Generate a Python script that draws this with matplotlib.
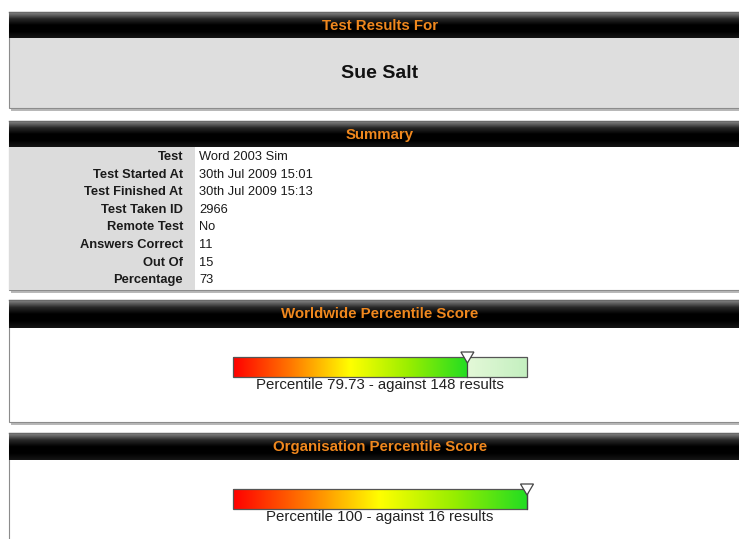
import numpy as np
import matplotlib
matplotlib.use("Agg")
import matplotlib.pyplot as plt
from matplotlib.colors import LinearSegmentedColormap
from matplotlib.patches import Rectangle, Polygon

plt.rcParams['font.family'] = ['Liberation Sans', 'DejaVu Sans']

# ---- data ----
candidate = "Sue Salt"
summary_labels = ["Test", "Test Started At", "Test Finished At", "Test Taken ID",
                  "Remote Test", "Answers Correct", "Out Of", "Percentage"]
summary_values = ["Word 2003 Sim", "30th Jul 2009 15:01", "30th Jul 2009 15:13", "2966",
                  "No", "11", "15", "73"]
panel_titles = ["Worldwide Percentile Score", "Organisation Percentile Score"]
percentiles = [79.73, 100]
percentile_labels = ["79.73", "100"]
result_counts = [148, 16]

W, H = 739, 539
fig = plt.figure(figsize=(W / 100, H / 100), dpi=100)
ax = fig.add_axes([0, 0, 1, 1])
ax.set_xlim(0, W)
ax.set_ylim(H, 0)
ax.axis('off')

ORANGE = '#f0881e'
head_cmap = LinearSegmentedColormap.from_list('head', ['#8a8a8a', '#2a2a2a', '#000000', '#000000', '#151515'])
grad = np.linspace(0, 1, 64).reshape(-1, 1)

PX0, PX1 = 9, 745
CX = 380


def header(y0, y1, title):
    ax.imshow(grad, cmap=head_cmap, aspect='auto', extent=[PX0, PX1, y1, y0], zorder=2)
    ax.plot([PX0, PX1], [y0, y0], color='#6a6a6a', lw=1, zorder=3)
    ax.text(CX, (y0 + y1) / 2 + 0.5, title, color=ORANGE, fontsize=10.8,
            fontweight='bold', ha='center', va='center', zorder=4)


def panel_body(y0, y1, face):
    ax.add_patch(Rectangle((PX0, y0), PX1 - PX0, y1 - y0, facecolor=face,
                           edgecolor='#8c8c8c', lw=0.8, zorder=1))
    # bottom shadow
    ax.add_patch(Rectangle((PX0 + 2, y1), PX1 - PX0, 2.5, facecolor='#b8b8b8',
                           edgecolor='none', zorder=0.5))


# ---- Panel 1: Test Results For ----
panel_body(12, 108, '#dedede')
header(12, 38, "Test Results For")
ax.text(CX, 74, candidate, fontsize=14, fontweight='bold', ha='center', va='center',
        color='#111111', zorder=4)

# ---- Panel 2: Summary ----
panel_body(121, 290, 'white')
ax.add_patch(Rectangle((PX0, 147), 195 - PX0, 290 - 147, facecolor='#dcdcdc',
                       edgecolor='none', zorder=1.5))
header(121, 147, "Summary")
row0, rowh = 157, 17.6
for i, (lab, val) in enumerate(zip(summary_labels, summary_values)):
    y = row0 + i * rowh
    ax.text(183, y, lab, fontsize=9.3, fontweight='bold', ha='right', va='center',
            color='#1a1a1a', zorder=4)
    ax.text(199, y, val, fontsize=9.3, ha='left', va='center', color='#1a1a1a', zorder=4)

# ---- Percentile panels ----
bar_cmap = LinearSegmentedColormap.from_list('pct', [(0, '#ff0000'), (0.25, '#ff7a00'),
                                                     (0.5, '#ffff00'), (0.75, '#99ee00'),
                                                     (1.0, '#22dd22')])
rest_cmap = LinearSegmentedColormap.from_list('rest', ['#e4f8d8', '#c4f0c0'])
hgrad = np.linspace(0, 1, 256).reshape(1, -1)

BX0, BW = 233, 294
panel_layout = [(300, 328, 422), (433, 460, 560)]
for (hy0, hy1, by1), title, p, plab, n in zip(panel_layout, panel_titles, percentiles,
                                               percentile_labels, result_counts):
    panel_body(hy0, by1, 'white')
    header(hy0, hy1, title)
    bar_top = hy1 + 29
    bar_bot = bar_top + 20
    xm = BX0 + BW * p / 100.0
    ax.imshow(hgrad, cmap=bar_cmap, aspect='auto', extent=[BX0, xm, bar_bot, bar_top], zorder=2)
    if p < 100:
        ax.imshow(hgrad, cmap=rest_cmap, aspect='auto', extent=[xm, BX0 + BW, bar_bot, bar_top],
                  zorder=2)
    ax.add_patch(Rectangle((BX0, bar_top), BW, bar_bot - bar_top, facecolor='none',
                           edgecolor='#555555', lw=0.9, zorder=3))
    ax.plot([xm, xm], [bar_top, bar_bot], color='#444444', lw=0.9, zorder=3)
    ax.add_patch(Polygon([[xm - 6.5, bar_top - 5], [xm + 6.5, bar_top - 5], [xm, bar_top + 6]],
                         closed=True, facecolor='white', edgecolor='#444444', lw=0.9, zorder=4))
    ax.text(BX0 + BW / 2, bar_bot + 8, f"Percentile {plab} - against {n} results",
            fontsize=10.8, ha='center', va='center', color='#222222', zorder=4)

fig.savefig('out.png', dpi=100)
